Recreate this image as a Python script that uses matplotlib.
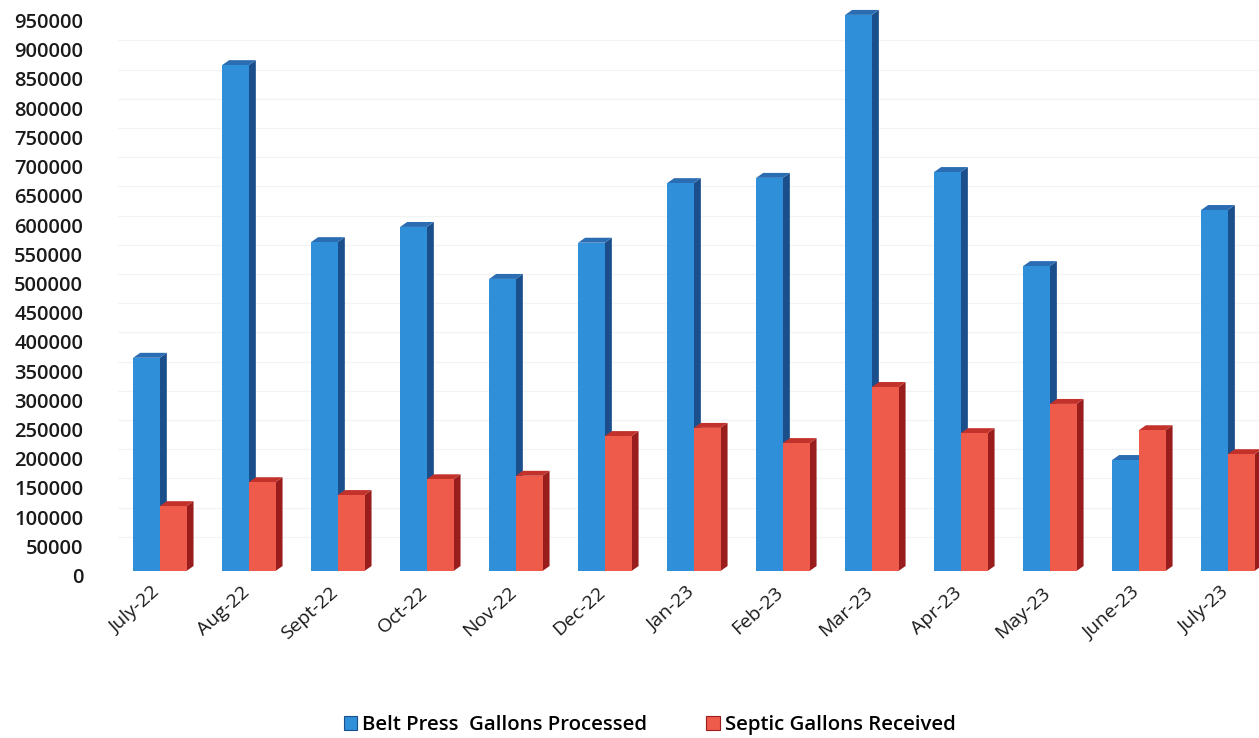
import matplotlib
matplotlib.use("Agg")
import matplotlib.pyplot as plt
from matplotlib.patches import Polygon, Patch
from matplotlib.transforms import ScaledTranslation

plt.rcParams['font.family'] = ['Open Sans', 'DejaVu Sans']

months = ['July-22', 'Aug-22', 'Sept-22', 'Oct-22', 'Nov-22', 'Dec-22', 'Jan-23',
          'Feb-23', 'Mar-23', 'Apr-23', 'May-23', 'June-23', 'July-23']
belt_press = [365000, 866000, 563000, 589000, 500000, 562000, 664000,
              673000, 952000, 683000, 522000, 190000, 618000]
septic = [111000, 152000, 130000, 157000, 163000, 231000, 245000,
          219000, 315000, 236000, 286000, 241000, 200000]

blue = ('#2f8fd9', '#1b4f8c', '#2b6db3')   # front, side, top
red = ('#ee5b4b', '#9a1d1d', '#c2322b')

W = 0.30          # bar width (category units)
DX, DY = 0.079, 8500   # depth offset of the 3D faces


def bar3d(ax, x, h, colors, z):
    front, side, top = colors
    ax.bar(x, h, W, color=front, zorder=z + 0.2, linewidth=0)
    r = x + W / 2
    l = x - W / 2
    ax.add_patch(Polygon([(r, 0), (r + DX, DY), (r + DX, h + DY), (r, h)],
                         closed=True, facecolor=side, edgecolor='none', zorder=z))
    ax.add_patch(Polygon([(l, h), (l + DX, h + DY), (r + DX, h + DY), (r, h)],
                         closed=True, facecolor=top, edgecolor='none', zorder=z + 0.1))


fig = plt.figure(figsize=(12.59, 7.38), dpi=100)
ax = fig.add_axes([0.0937, 0.2263, 0.9063, 0.7737])
ax.set_xlim(-0.47, 12.35)
ax.set_ylim(0, 977500)

yticks = list(range(0, 950001, 50000))
for y in yticks[1:-1]:
    ax.axhline(y + DY, color='#f3f3f3', lw=0.9, zorder=0)

for i, (b, s) in enumerate(zip(belt_press, septic)):
    bar3d(ax, i - W / 2, b, blue, 2)
    bar3d(ax, i + W / 2, s, red, 3)

ax.set_yticks(yticks)
ax.set_yticklabels([str(v) for v in yticks], fontsize=14.5, color='#1a1a1a',
                   weight='semibold')
ax.set_xticks(range(len(months)))
ax.set_xticklabels(months, rotation=42, ha='right', va='top',
                   rotation_mode='anchor', fontsize=14, color='#1a1a1a')
ax.tick_params(axis='y', length=0, pad=25)
ax.tick_params(axis='x', length=0, pad=9)
for sp in ax.spines.values():
    sp.set_visible(False)

shift = ScaledTranslation(0, -4.5 / 100, fig.dpi_scale_trans)
for lab in ax.get_yticklabels():
    lab.set_transform(lab.get_transform() + shift)
shift_x = ScaledTranslation(-8 / 100, 0, fig.dpi_scale_trans)
for lab in ax.get_xticklabels():
    lab.set_transform(lab.get_transform() + shift_x)

handles = [Patch(facecolor=blue[0], edgecolor=blue[1], linewidth=0.8),
           Patch(facecolor=red[0], edgecolor=red[1], linewidth=0.8)]
fig.legend(handles, ['Belt Press  Gallons Processed', 'Septic Gallons Received'],
           loc='center', bbox_to_anchor=(0.516, 1 - 725 / 738), ncol=2,
           frameon=False, columnspacing=2.9,
           handlelength=0.65, handleheight=0.65, handletextpad=0.25,
           prop={'size': 14.7, 'weight': 'semibold'})

fig.savefig('out.png', dpi=100)
